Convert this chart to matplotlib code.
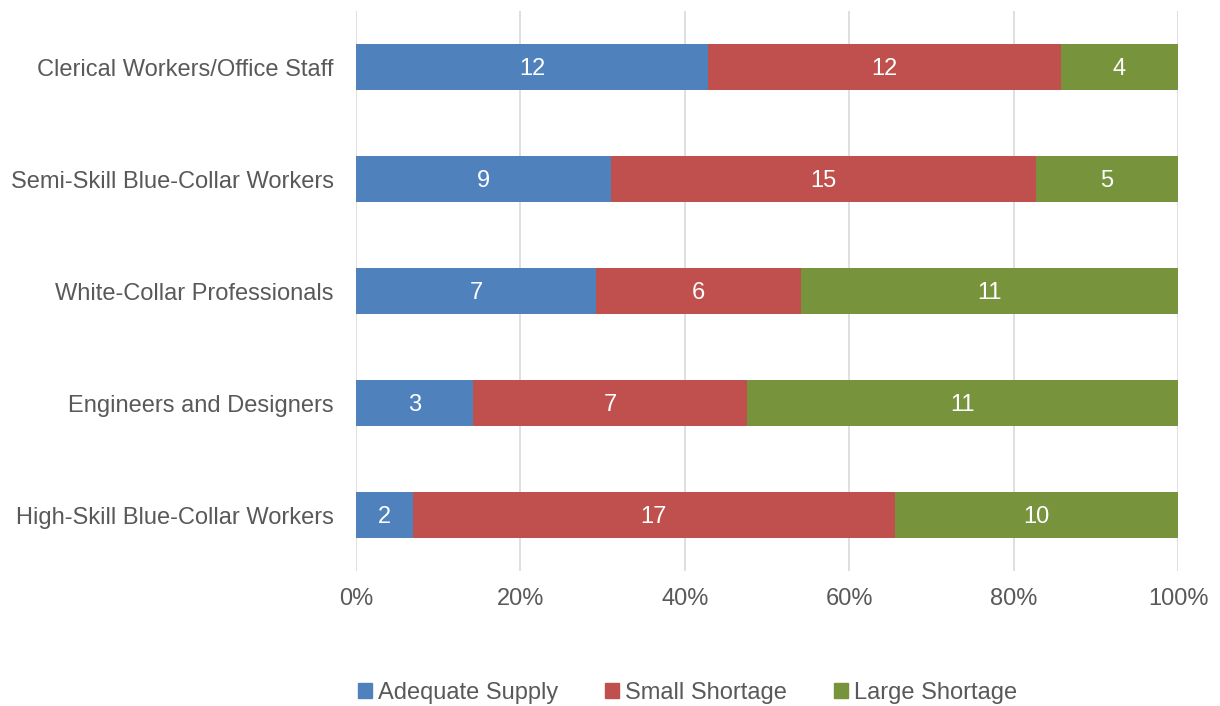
import matplotlib.pyplot as plt
import numpy as np
from matplotlib.patches import Patch
from matplotlib.ticker import PercentFormatter

plt.rcParams.update({
    "font.family": ["Liberation Sans", "DejaVu Sans"],
    "font.size": 17,
    "text.color": "#595959",
    "xtick.color": "#595959",
    "ytick.color": "#595959",
})

categories = [
    "High-Skill Blue-Collar Workers",
    "Engineers and Designers",
    "White-Collar Professionals",
    "Semi-Skill Blue-Collar Workers",
    "Clerical Workers/Office Staff",
]
series_names = ["Adequate Supply", "Small Shortage", "Large Shortage"]
adequate = [2, 3, 7, 9, 12]
small = [17, 7, 6, 15, 12]
large = [10, 11, 11, 5, 4]
colors = ["#4F81BD", "#C0504D", "#77933C"]

counts = np.array([adequate, small, large], dtype=float)
shares = counts / counts.sum(axis=0) * 100

fig = plt.figure(figsize=(12.2, 7.06), dpi=100)
ax = fig.add_axes([0.2918, 0.1912, 0.6738, 0.7932])

y = np.arange(len(categories))
left = np.zeros(len(categories))
for vals, cnt, color in zip(shares, counts, colors):
    bars = ax.barh(y, vals, left=left, height=0.41, color=color, zorder=3)
    # counts written in the middle of each segment, nudged a bit down
    for b, c in zip(bars, cnt):
        ax.text(b.get_x() + b.get_width() / 2, b.get_y() + b.get_height() / 2 - 0.02,
                f"{int(c)}", ha="center", va="center", color="white", fontsize=17,
                zorder=4)
    left += vals

ax.set_xlim(0, 100)
ax.set_ylim(-0.5, len(categories) - 0.5)
ax.set_xticks(np.arange(0, 101, 20))
ax.xaxis.set_major_formatter(PercentFormatter(decimals=0))
ax.set_yticks(y)
ax.set_yticklabels(categories)
ax.tick_params(axis="both", length=0)
ax.tick_params(axis="x", pad=12)
ax.tick_params(axis="y", pad=16)
ax.grid(axis="x", color="#D9D9D9", linewidth=1.2, zorder=0)
for s in ax.spines.values():
    s.set_visible(False)

handles = [Patch(color=c, label=n) for c, n in zip(colors, series_names)]
fig.legend(handles=handles, loc="center", bbox_to_anchor=(0.5635, 0.018), ncol=3,
           frameon=False, handlelength=0.6, handleheight=0.6, handletextpad=0.25,
           columnspacing=2.0, fontsize=17)

fig.savefig("out.png", dpi=100)
